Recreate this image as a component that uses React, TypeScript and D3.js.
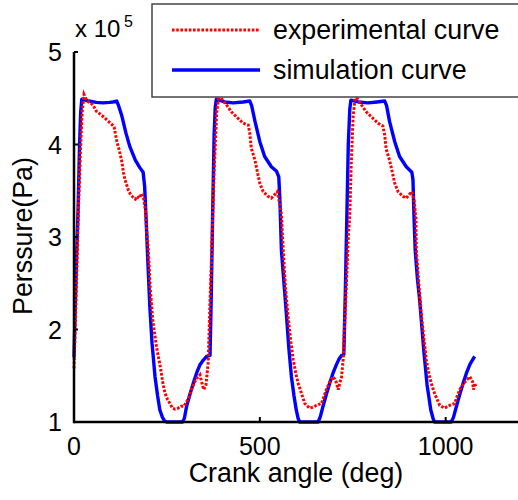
import React from "react";
import * as d3 from "d3";

type Pt = [number, number];

// Simulation curve (deg, value x1e5 Pa)
const simCycle1: Pt[] = [
  [0, 1.70], [3, 2.2], [7, 2.8], [11, 3.3], [15, 4.0], [18, 4.35], [21, 4.49],
  [40, 4.47], [60, 4.455], [78, 4.45], [95, 4.455], [105, 4.46], [115, 4.47],
  [120, 4.42], [128, 4.32], [140, 4.12], [150, 3.98], [165, 3.83], [177, 3.75], [186, 3.70],
  [190, 3.55], [194, 3.2], [198, 2.8], [204, 2.25], [210, 1.85], [218, 1.49], [225, 1.28],
  [231, 1.13], [238, 1.05], [244, 1.01], [249, 1.0], [292, 1.0], [297, 1.04], [303, 1.17],
  [312, 1.3], [321, 1.42], [330, 1.53], [339, 1.62], [348, 1.67], [357, 1.71], [366, 1.72],
];
const simCycle2: Pt[] = [
  [369, 2.3], [373, 3.24], [377, 4.1], [380, 4.4], [383, 4.49],
  [405, 4.46], [428, 4.45], [455, 4.46], [473, 4.47],
  [478, 4.42], [487, 4.25], [500, 4.03], [513, 3.87], [531, 3.76], [545, 3.71], [551, 3.65],
  [554, 3.4], [558, 2.86], [565, 2.5], [572, 2.14], [578, 1.8], [585, 1.49], [592, 1.28],
  [598, 1.13], [603, 1.04], [607, 1.0], [657, 1.0], [663, 1.06], [670, 1.17],
  [679, 1.3], [688, 1.42], [697, 1.53], [706, 1.62], [713, 1.68], [720, 1.72], [726, 1.73],
];
const simCycle3: Pt[] = [
  [730, 2.4], [734, 3.2], [738, 4.0], [742, 4.38], [745, 4.48],
  [765, 4.46], [791, 4.45], [815, 4.46], [836, 4.47],
  [841, 4.42], [849, 4.25], [863, 4.03], [876, 3.87], [894, 3.76], [909, 3.70], [912, 3.62],
  [915, 3.2], [918, 2.86], [924, 2.55], [930, 2.32], [941, 1.78], [950, 1.40], [960, 1.13],
  [966, 1.04], [970, 1.0], [1015, 1.0], [1021, 1.05], [1029, 1.17], [1038, 1.3],
  [1047, 1.42], [1056, 1.53], [1065, 1.62], [1072, 1.67], [1078, 1.71],
];

// Experimental curve
const expCycle1: Pt[] = [
  [0, 1.58], [4, 2.1], [8, 2.7], [12, 3.3], [17, 3.9], [22, 4.35], [27, 4.54],
  [35, 4.47], [45, 4.45], [52, 4.42], [60, 4.36], [70, 4.33], [79, 4.30], [90, 4.26],
  [101, 4.22], [108, 4.19], [112, 4.10], [116, 4.02], [121, 3.95], [128, 3.83], [133, 3.70],
  [137, 3.62], [146, 3.51], [152, 3.46], [159, 3.43], [165, 3.41], [170, 3.44], [176, 3.42],
  [182, 3.47], [187, 3.42], [192, 3.3], [196, 3.05], [200, 2.86], [205, 2.45], [212, 2.1],
  [222, 1.81], [232, 1.60], [240, 1.40], [245, 1.31], [252, 1.24], [258, 1.20], [265, 1.15],
  [272, 1.14], [280, 1.15], [288, 1.17], [296, 1.17], [303, 1.22], [310, 1.27], [316, 1.35],
  [323, 1.42], [330, 1.47], [339, 1.51], [343, 1.44], [349, 1.35], [355, 1.40], [361, 1.64],
];
const expCycle2: Pt[] = [
  [366, 2.3], [371, 2.9], [375, 3.5], [379, 3.9], [384, 4.35], [390, 4.53],
  [400, 4.48], [410, 4.43], [424, 4.35], [437, 4.30], [455, 4.23], [469, 4.21], [473, 4.12],
  [477, 3.96], [487, 3.83], [493, 3.71], [500, 3.58], [509, 3.49], [522, 3.44], [531, 3.42],
  [538, 3.45], [547, 3.49], [554, 3.35], [558, 3.24], [563, 2.86], [569, 2.45], [576, 2.14],
  [583, 1.88], [590, 1.67], [597, 1.52], [603, 1.42], [612, 1.31], [621, 1.20], [634, 1.15],
  [643, 1.16], [652, 1.18], [666, 1.20], [672, 1.27], [679, 1.35], [688, 1.43], [697, 1.49],
  [704, 1.45], [711, 1.35], [715, 1.42], [720, 1.49], [724, 1.67], [733, 2.5],
];
const expCycle3: Pt[] = [
  [738, 3.0], [742, 3.24], [746, 3.8], [751, 4.3], [757, 4.53],
  [765, 4.48], [773, 4.43], [787, 4.35], [800, 4.30], [818, 4.23], [831, 4.20], [836, 4.10],
  [840, 3.95], [849, 3.83], [856, 3.71], [863, 3.58], [872, 3.49], [885, 3.44], [894, 3.42],
  [900, 3.45], [909, 3.49], [915, 3.4], [920, 3.2], [921, 2.86], [928, 2.48], [935, 2.14],
  [942, 1.88], [948, 1.67], [955, 1.52], [961, 1.42], [970, 1.31], [984, 1.18], [997, 1.15],
  [1011, 1.18], [1024, 1.20], [1031, 1.28], [1038, 1.35], [1047, 1.41], [1056, 1.45],
  [1065, 1.49], [1072, 1.44], [1075, 1.35], [1078, 1.42], [1081, 1.38],
];

const xTicks = [0, 500, 1000];
const yTicks = [1, 2, 3, 4, 5];
const legendLabels = ["experimental curve", "simulation curve"];

const FONT = "'Liberation Sans', Arial, Helvetica, sans-serif";

export default function App() {
  const W = 518;
  const H = 500;
  const x = d3.scaleLinear().domain([0, 1200]).range([74, 520]);
  const y = d3.scaleLinear().domain([1, 5]).range([422, 52]);
  const line = d3
    .line<Pt>()
    .x((d) => x(d[0]))
    .y((d) => y(d[1]));

  const sim = [...simCycle1, ...simCycle2, ...simCycle3];
  const exp = [...expCycle1, ...expCycle2, ...expCycle3];

  return (
    <svg
      width={W}
      height={H}
      style={{ position: "absolute", left: 0, top: 0, background: "#fff" }}
      fontFamily={FONT}
    >
      <rect x={0} y={0} width={W} height={H} fill="#fff" />
      {/* data */}
      <path d={line(sim) || ""} fill="none" stroke="#0000ff" strokeWidth={3.4} strokeLinejoin="round" />
      <path
        d={line(exp) || ""}
        fill="none"
        stroke="#ff0000"
        strokeWidth={3}
        strokeDasharray="2.6,1.6"
      />

      {/* axes */}
      <line x1={x(0)} x2={520} y1={y(1)} y2={y(1)} stroke="#000" strokeWidth={2.5} />
      <line x1={x(0)} x2={x(0)} y1={y(1) + 1.2} y2={y(5)} stroke="#000" strokeWidth={2.5} />
      {yTicks.map((t) => (
        <g key={"y" + t}>
          <line x1={x(0)} x2={x(0) + 4} y1={y(t)} y2={y(t)} stroke="#000" strokeWidth={2} />
          <text x={62} y={y(t) + 9} textAnchor="end" fontSize={25} fill="#000">
            {t}
          </text>
        </g>
      ))}
      {xTicks.map((t) => (
        <g key={"x" + t}>
          <line x1={x(t)} x2={x(t)} y1={y(1)} y2={y(1) - 5} stroke="#000" strokeWidth={2} />
          <text x={x(t)} y={455} textAnchor="middle" fontSize={25} fill="#000">
            {t}
          </text>
        </g>
      ))}

      {/* exponent */}
      <text x={75} y={37} fontSize={24} fill="#000">
        x 10
      </text>
      <text x={124} y={27} fontSize={16} fill="#000">
        5
      </text>

      {/* axis labels */}
      <text x={296} y={482} textAnchor="middle" fontSize={26.8} fill="#000">
        Crank angle (deg)
      </text>
      <text
        transform={`translate(32,236) rotate(-90)`}
        textAnchor="middle"
        fontSize={26.8}
        fill="#000"
      >
        Perssure(Pa)
      </text>

      {/* legend */}
      <rect x={152} y={4} width={400} height={93} fill="#fff" stroke="#444" strokeWidth={1.5} />
      <line x1={172} x2={260} y1={30} y2={30} stroke="#ff0000" strokeWidth={3} strokeDasharray="2.6,1.6" />
      <line x1={172} x2={260} y1={70} y2={70} stroke="#0000ff" strokeWidth={3.4} />
      <text x={273} y={39} fontSize={26.8} fill="#000">
        {legendLabels[0]}
      </text>
      <text x={273} y={79} fontSize={26.8} fill="#000">
        {legendLabels[1]}
      </text>
    </svg>
  );
}
